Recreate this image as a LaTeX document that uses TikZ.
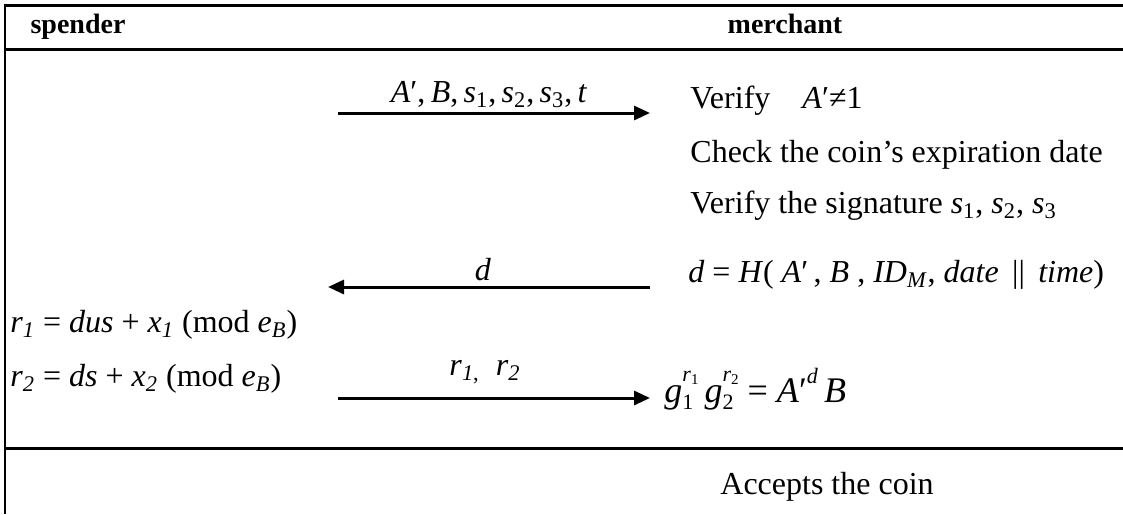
\documentclass[tikz,border=0pt]{standalone}
\usepackage{fontspec}
\setmainfont{Liberation Serif}
\usetikzlibrary{arrows.meta}
\newcommand\mi[1]{\textit{#1}}
\newcommand\sbs[1]{\textsubscript{#1}}
\newcommand\smfnt{\fontsize{11}{12}\selectfont}
\newcommand\tnfnt{\fontsize{7.5}{8}\selectfont}
\tikzset{
  txt/.style={anchor=base west, inner sep=0pt, font=\fontsize{16}{19}\selectfont},
  lbl/.style={anchor=base, inner sep=0pt, font=\fontsize{16}{19}\selectfont},
  hdr/.style={anchor=base, inner sep=0pt, font=\fontsize{14}{17}\selectfont\bfseries},
  rule/.style={line width=1.5pt},
  msg/.style={line width=1.5pt, -{Triangle[length=8pt,width=7pt]}}
}
\begin{document}
\begin{tikzpicture}[x=0.5pt,y=-0.5pt]
\useasboundingbox (0,0) rectangle (1123,514);
% frame lines
\coordinate (tl) at (4,5);
\coordinate (tr) at (1123,5);
\coordinate (hl) at (4,49);
\coordinate (hr) at (1123,49);
\coordinate (bl) at (4,448);
\coordinate (br) at (1123,448);
\coordinate (lt) at (5,5);
\coordinate (lb) at (5,514);
\draw[rule] (tl) -- (tr);
\draw[rule] (hl) -- (hr);
\draw[rule] (bl) -- (br);
\draw[line width=1pt] (lt) -- (lb);
% header
\node[hdr] (sp) at (78,33) {spender};
\node[hdr] (me) at (785,33) {merchant};
% message 1
\coordinate (m1s) at (338,113);
\coordinate (m1e) at (650,113);
\draw[msg] (m1s) -- (m1e);
\node[lbl] (l1) at (489,102) {\mi{A}′,\,\mi{B},\,\mi{s}\sbs{1},\,\mi{s}\sbs{2},\,\mi{s}\sbs{3},\,\mi{t}};
\node[txt] (v1) at (690,108) {Verify\quad\mi{A}′≠1};
\node[txt] (v2) at (690,162) {Check the coin’s expiration date};
\node[txt] (v3) at (690,213) {Verify the signature \mi{s}\sbs{1}, \mi{s}\sbs{2}, \mi{s}\sbs{3}};
% message 2
\coordinate (m2s) at (650,287);
\coordinate (m2e) at (328,287);
\draw[msg] (m2s) -- (m2e);
\node[lbl] (l2) at (483,280) {\mi{d}};
\node[txt] (dh) at (688,282) {\mi{d} = \mi{H}( \mi{A}′\,, \mi{B} , \mi{ID}\sbs{\mi{M}}, \mi{date}\, ||\, \mi{time})};
% spender computations
\node[txt] (r1) at (10,332) {\mi{r}\sbs{\mi{1}} = \mi{dus} + \mi{x}\sbs{\mi{1}} (mod \mi{e}\sbs{\mi{B}})};
\node[txt] (r2) at (10,386) {\mi{r}\sbs{\mi{2}} = \mi{ds} + \mi{x}\sbs{\mi{2}} (mod \mi{e}\sbs{\mi{B}})};
% message 3
\coordinate (m3s) at (338,398);
\coordinate (m3e) at (650,398);
\draw[msg] (m3s) -- (m3e);
\node[lbl] (l3) at (485,375) {\mi{r}\sbs{\mi{1},}\enspace\mi{r}\sbs{\mi{2}}};
\node[txt, font=\fontsize{18}{20}\selectfont] (ge) at (664,402)
  {\mi{g}\rlap{\raisebox{-0.45ex}{\smfnt 1}}\raisebox{1.25ex}{\smfnt\mi{r}\raisebox{-0.3ex}{\tnfnt 1}}\,\mi{g}\rlap{\raisebox{-0.45ex}{\smfnt 2}}\raisebox{1.25ex}{\smfnt\mi{r}\raisebox{-0.3ex}{\tnfnt 2}} = \mi{A}′\raisebox{1.1ex}{\smfnt\mi{d}}\,\mi{B}};
% result
\node[txt] (ac) at (720,494) {Accepts the coin};
\end{tikzpicture}
\end{document}
